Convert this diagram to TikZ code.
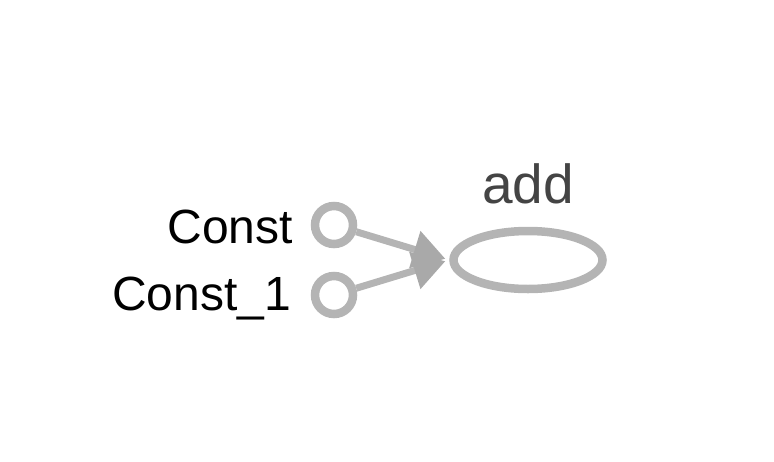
\documentclass[tikz,border=0pt]{standalone}
\usepackage{fontspec}
\setmainfont{Liberation Sans}
\usetikzlibrary{shapes.geometric,arrows.meta}
\definecolor{nodegray}{HTML}{B4B4B4}
\definecolor{tipgray}{HTML}{A9A9A9}
\definecolor{labelgray}{HTML}{444444}
\tikzset{
  constnode/.style={circle, draw=nodegray, line width=8.5pt, minimum size=38pt, inner sep=0pt},
  opnode/.style={ellipse, draw=nodegray, line width=8.5pt, minimum width=149pt, minimum height=58pt, inner sep=0pt},
  edge/.style={draw=nodegray, line width=7pt, shorten >=4pt, -{Triangle[length=32pt,width=37pt,color=tipgray]}},
  lbl/.style={inner sep=0pt, font=\fontsize{48}{54}\selectfont},
  oplbl/.style={inner sep=0pt, text=labelgray, font=\fontsize{55}{62}\selectfont}
}
\begin{document}
\begin{tikzpicture}[x=1pt,y=-1pt]
\useasboundingbox (0,0) rectangle (774,461);
\node[constnode] (c0) at (334,225) {};
\node[constnode] (c1) at (334,295) {};
\node[opnode] (add) at (528,260) {};
\node[lbl, anchor=base east] (t0) at (293,243) {Const};
\node[lbl, anchor=base east] (t1) at (291,310) {Const\_1};
\node[oplbl, anchor=base] (t2) at (528,203) {add};
\draw[edge] (c0) -- (add.west);
\draw[edge] (c1) -- (add.west);
\end{tikzpicture}
\end{document}
